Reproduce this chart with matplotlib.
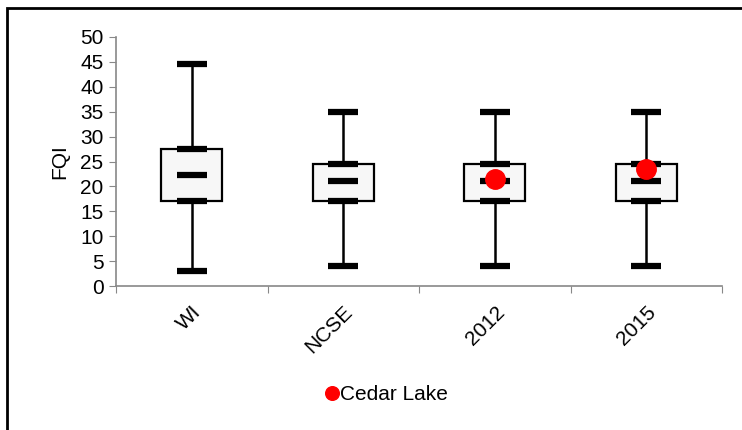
import matplotlib
matplotlib.use("Agg")
import matplotlib.pyplot as plt
from matplotlib.patches import Rectangle

plt.rcParams['font.family'] = ['Liberation Sans', 'DejaVu Sans']

categories = ["WI", "NCSE", "2012", "2015"]
mins = [3, 4, 4, 4]
q1 = [17, 17, 17, 17]
medians = [22.2, 21, 21, 21]
q3 = [27.5, 24.5, 24.5, 24.5]
maxs = [44.5, 35, 35, 35]
cedar_x = ["2012", "2015"]
cedar_y = [21.5, 23.5]

FS = 15

fig = plt.figure(figsize=(7.42, 4.30), dpi=100)
ax = fig.add_axes([116/742, 1-286/430, (722-116)/742, (286-37)/430])

xs = list(range(len(categories)))
ax.vlines(xs, mins, maxs, color='black', lw=1.8, zorder=2)
ax.bar(xs, [b - a for a, b in zip(q1, q3)], bottom=q1, width=0.4,
       color='#f7f7f7', edgecolor='black', linewidth=1.6, zorder=3)
for vals in (mins, q1, medians, q3, maxs):
    ax.plot(xs, vals, ls='none', marker='_', markersize=22, mew=4.5,
            color='black', zorder=4)
cx = [categories.index(c) for c in cedar_x]
ax.plot(cx, cedar_y, ls='none', marker='o', markersize=14, color='#ff0000',
        zorder=5, label='Cedar Lake')

ax.set_xlim(-0.5, len(categories) - 0.5)
ax.set_ylim(0, 50)
ax.set_yticks(range(0, 51, 5))
ax.set_xticks([x + 0.5 for x in range(-1, len(categories))], minor=False)
ax.set_xticklabels([])
ax.set_xticks(xs, minor=True)
ax.set_xticklabels(categories, minor=True, rotation=45, ha='right', va='top',
                   rotation_mode='anchor', fontsize=FS)
ax.tick_params(axis='x', which='minor', length=0, pad=12)
ax.tick_params(axis='x', which='major', length=5, color='#888888', direction='out')
ax.tick_params(axis='y', length=5, color='#888888', labelsize=FS, pad=4)
for s in ('top', 'right'):
    ax.spines[s].set_visible(False)
for s in ('left', 'bottom'):
    ax.spines[s].set_color('#888888')
    ax.spines[s].set_linewidth(1.2)
ax.set_ylabel('FQI', fontsize=FS, labelpad=8)

fig.legend(loc='center', bbox_to_anchor=(384/742, 1-395/430), frameon=False,
           fontsize=FS, handletextpad=-0.2, handlelength=1.2,
           markerscale=0.7, numpoints=1)

fig.patches.append(Rectangle((7/742, -0.1), 1.2, 1 - 8/430 + 0.1,
                             transform=fig.transFigure, fill=False,
                             edgecolor='black', linewidth=2, zorder=10))

fig.savefig('out.png', dpi=100)
